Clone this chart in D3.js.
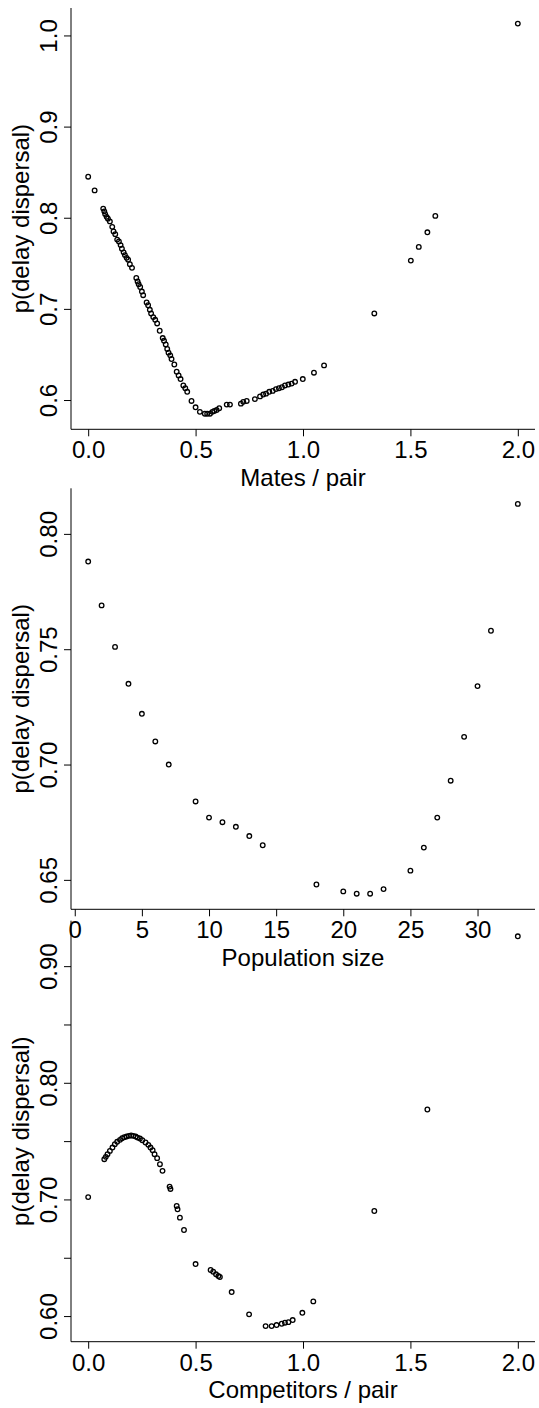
<!DOCTYPE html>
<html>
<head>
<meta charset="utf-8">
<script src="https://cdn.jsdelivr.net/npm/d3@7"></script>
<style>
  html, body { margin: 0; padding: 0; background: #fff; }
  svg { display: block; }
</style>
</head>
<body>
<script>
// ---------- Data ----------
const matesX = [0, 0.030, 0.070, 0.075, 0.079, 0.086, 0.092, 0.101, 0.112, 0.118, 0.126, 0.135, 0.143, 0.151, 0.157, 0.165, 0.171, 0.179, 0.186, 0.194, 0.204, 0.224, 0.230, 0.235, 0.242, 0.250, 0.256, 0.272, 0.279, 0.287, 0.293, 0.303, 0.312, 0.321, 0.333, 0.347, 0.353, 0.361, 0.368, 0.374, 0.382, 0.388, 0.401, 0.412, 0.421, 0.430, 0.443, 0.452, 0.461, 0.481, 0.500, 0.520, 0.543, 0.554, 0.567, 0.578, 0.587, 0.598, 0.610, 0.645, 0.660, 0.711, 0.722, 0.738, 0.776, 0.800, 0.815, 0.828, 0.843, 0.859, 0.874, 0.888, 0.902, 0.916, 0.932, 0.947, 0.963, 0.999, 1.051, 1.098, 1.332, 1.502, 1.539, 1.579, 1.616, 2.0];
const matesY = [0.845, 0.830, 0.810, 0.807, 0.804, 0.801, 0.799, 0.796, 0.790, 0.785, 0.782, 0.776, 0.774, 0.770, 0.766, 0.762, 0.759, 0.756, 0.754, 0.749, 0.745, 0.734, 0.730, 0.727, 0.724, 0.719, 0.715, 0.707, 0.704, 0.699, 0.695, 0.691, 0.688, 0.684, 0.676, 0.668, 0.665, 0.661, 0.656, 0.652, 0.649, 0.645, 0.639, 0.631, 0.627, 0.623, 0.616, 0.613, 0.609, 0.599, 0.592, 0.587, 0.585, 0.585, 0.585, 0.587, 0.588, 0.589, 0.591, 0.595, 0.595, 0.596, 0.598, 0.599, 0.601, 0.604, 0.606, 0.607, 0.609, 0.610, 0.612, 0.613, 0.614, 0.616, 0.617, 0.618, 0.620, 0.623, 0.630, 0.638, 0.695, 0.753, 0.768, 0.784, 0.802, 1.013];

const popX = [1, 2, 3, 4, 5, 6, 7, 9, 10, 11, 12, 13, 14, 18, 20, 21, 22, 23, 25, 26, 27, 28, 29, 30, 31, 33];
const popY = [0.788, 0.769, 0.751, 0.735, 0.722, 0.710, 0.700, 0.684, 0.677, 0.675, 0.673, 0.669, 0.665, 0.648, 0.645, 0.644, 0.644, 0.646, 0.654, 0.664, 0.677, 0.693, 0.712, 0.734, 0.758, 0.813];

const compX = [0, 0.075, 0.082, 0.090, 0.101, 0.113, 0.124, 0.135, 0.148, 0.158, 0.168, 0.179, 0.190, 0.200, 0.210, 0.221, 0.230, 0.241, 0.252, 0.267, 0.280, 0.290, 0.300, 0.309, 0.321, 0.334, 0.346, 0.379, 0.383, 0.412, 0.416, 0.427, 0.446, 0.500, 0.570, 0.582, 0.595, 0.606, 0.613, 0.668, 0.749, 0.826, 0.854, 0.877, 0.901, 0.916, 0.932, 0.952, 0.997, 1.048, 1.332, 1.579, 2.0];
const compY = [0.702, 0.7345, 0.7365, 0.7388, 0.7416, 0.7445, 0.7474, 0.7494, 0.7511, 0.7525, 0.7534, 0.7539, 0.7545, 0.7548, 0.7545, 0.7539, 0.7530, 0.7522, 0.7508, 0.7488, 0.7468, 0.7445, 0.7422, 0.7388, 0.7354, 0.7302, 0.7245, 0.711, 0.709, 0.6944, 0.6916, 0.6844, 0.6738, 0.6446, 0.6395, 0.6380, 0.6358, 0.6343, 0.6335, 0.6206, 0.6015, 0.5914, 0.5914, 0.5923, 0.5934, 0.5943, 0.5948, 0.5966, 0.6028, 0.6126, 0.6901, 0.7771, 0.9256];

const matesXTicks = [0, 0.5, 1.0, 1.5, 2.0];
const matesYTicks = [0.6, 0.7, 0.8, 0.9, 1.0];
const popXTicks = [0, 5, 10, 15, 20, 25, 30];
const popYTicks = [0.65, 0.70, 0.75, 0.80];
const compXTicks = [0, 0.5, 1.0, 1.5, 2.0];
const compYTicks = [0.60, 0.65, 0.70, 0.75, 0.80, 0.85, 0.90];
const compYLabelled = [0.60, 0.70, 0.80, 0.90];

const xTitles = ["Mates / pair", "Population size", "Competitors / pair"];
const yTitle = "p(delay dispersal)";

// ---------- Layout ----------
const W = 539, H = 1408;
const FONT = "'Liberation Sans', Arial, Helvetica, sans-serif";
const left = 71, right = 535;

const svg = d3.select("body").append("svg")
  .attr("width", W).attr("height", H)
  .attr("font-family", FONT);

function panel(cfg) {
  const xExt = d3.extent(cfg.xs), yExt = d3.extent(cfg.ys);
  const xPad = (xExt[1] - xExt[0]) * 0.04, yPad = (yExt[1] - yExt[0]) * 0.04;
  const x = d3.scaleLinear().domain([xExt[0] - xPad, xExt[1] + xPad]).range([left, right]);
  const y = d3.scaleLinear().domain([yExt[0] - yPad, yExt[1] + yPad]).range([cfg.bottom, cfg.top]);

  const g = svg.append("g");

  // L-shaped box
  g.append("line").attr("x1", left).attr("x2", left).attr("y1", cfg.top).attr("y2", cfg.bottom)
    .attr("stroke", "#000").attr("stroke-width", 1);
  g.append("line").attr("x1", left).attr("x2", right).attr("y1", cfg.bottom).attr("y2", cfg.bottom)
    .attr("stroke", "#000").attr("stroke-width", 1);

  // x axis
  const gx = g.append("g").attr("transform", `translate(0,${cfg.bottom})`)
    .call(d3.axisBottom(x).tickValues(cfg.xTicks).tickSize(7).tickFormat(cfg.xFmt));
  gx.attr("font-size", 24).attr("font-family", FONT);
  gx.select(".domain").remove();
  gx.selectAll(".tick line").attr("stroke", "#000");
  gx.selectAll(".tick text").attr("y", 29).attr("dy", 0).attr("fill", "#000");

  // y axis
  const gy = g.append("g").attr("transform", `translate(${left},0)`)
    .call(d3.axisLeft(y).tickValues(cfg.yTicks).tickSize(7).tickFormat(cfg.yFmt));
  gy.attr("font-size", 24).attr("font-family", FONT);
  gy.select(".domain").remove();
  gy.selectAll(".tick line").attr("stroke", "#000");
  gy.selectAll(".tick text")
    .attr("transform", "rotate(-90)")
    .attr("x", 0).attr("y", -14).attr("dy", 0)
    .attr("text-anchor", "middle").attr("fill", "#000");

  // titles
  g.append("text")
    .attr("x", (left + right) / 2).attr("y", cfg.bottom + 56.5)
    .attr("text-anchor", "middle").attr("font-size", 24).attr("fill", "#000")
    .text(cfg.xTitle);
  g.append("text")
    .attr("transform", `translate(29,${(cfg.top + cfg.bottom) / 2}) rotate(-90)`)
    .attr("text-anchor", "middle").attr("font-size", 24).attr("fill", "#000")
    .text(yTitle);

  // points
  const pts = d3.zip(cfg.xs, cfg.ys);
  g.append("g").selectAll("circle").data(pts).join("circle")
    .attr("cx", d => x(d[0])).attr("cy", d => y(d[1]))
    .attr("r", 2.3)
    .attr("fill", "none").attr("stroke", "#000").attr("stroke-width", 1.3);
}

const f1 = d3.format(".1f"), f2 = d3.format(".2f"), fd = d3.format("d");

panel({ xs: matesX, ys: matesY, xTicks: matesXTicks, yTicks: matesYTicks,
  xFmt: f1, yFmt: f1, xTitle: xTitles[0], top: 8, bottom: 429.3 });

panel({ xs: popX, ys: popY, xTicks: popXTicks, yTicks: popYTicks,
  xFmt: fd, yFmt: f2, xTitle: xTitles[1], top: 488.3, bottom: 909.3 });

panel({ xs: compX, ys: compY, xTicks: compXTicks, yTicks: compYTicks,
  xFmt: f1,
  yFmt: d => compYLabelled.some(v => Math.abs(v - d) < 1e-9) ? f2(d) : "",
  xTitle: xTitles[2], top: 920.7, bottom: 1341.7 });
</script>
</body>
</html>
